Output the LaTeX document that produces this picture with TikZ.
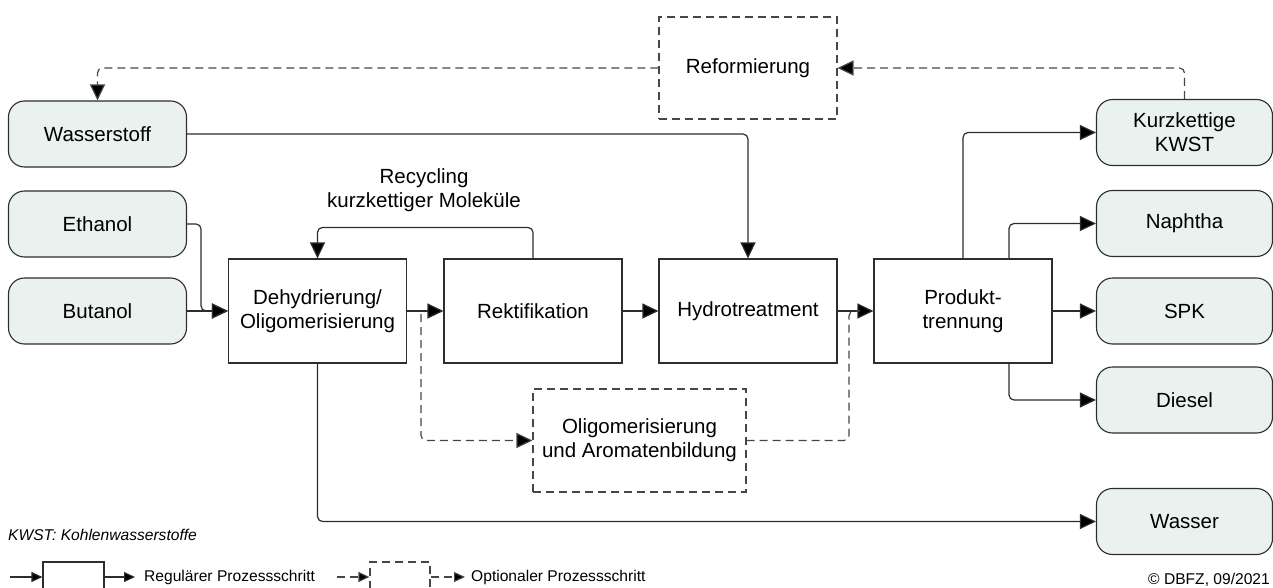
\documentclass[tikz,border=0pt]{standalone}
\usepackage{fontspec}
\setmainfont{Liberation Sans}
\usetikzlibrary{arrows.meta}
\definecolor{termfill}{RGB}{233,242,239}
\definecolor{linecol}{RGB}{45,45,45}
\definecolor{dashcol}{RGB}{70,70,70}
\begin{document}
\begin{tikzpicture}[x=1pt,y=-1pt,
  mainfont/.style={font=\fontsize{20.5}{24}\selectfont},
  smallfont/.style={font=\fontsize{15.6}{18}\selectfont},
  term/.style={draw=linecol, fill=termfill, rounded corners=16pt, minimum width=178pt,
    minimum height=66pt, align=center, mainfont, line width=1.1pt, inner sep=0pt},
  proc/.style={draw=linecol, minimum width=178pt, minimum height=104pt, align=center,
    mainfont, line width=1.1pt, inner sep=0pt},
  opt/.style={proc, draw=dashcol, dash pattern=on 8pt off 5pt},
  arr/.style={-{Triangle[length=16pt,width=15pt,fill=black]}, draw=linecol, line width=1.2pt, rounded corners=5pt},
  darr/.style={arr, draw=dashcol, dash pattern=on 8pt off 5pt},
  dline/.style={draw=dashcol, line width=1.2pt, rounded corners=5pt, dash pattern=on 8pt off 5pt},
  sarr/.style={-{Triangle[length=11pt,width=10pt,fill=black]}, draw=linecol, line width=1.1pt},
  dsarr/.style={sarr, draw=dashcol, dash pattern=on 8pt off 5pt},
  label/.style={align=center, mainfont, inner sep=0pt}
]
\useasboundingbox (0,0) rectangle (1273,588);

% source nodes
\node[term] (wst) at (97.5,134) {Wasserstoff};
\node[term] (eth) at (97.5,224) {Ethanol};
\node[term] (but) at (97.5,311) {Butanol};

% process steps
\node[proc] (deh) at (317.5,311) {Dehydrierung/\\Oligomerisierung};
\node[proc] (rek) at (533,311) {Rektifikation};
\node[proc] (hyd) at (748,311) {Hydrotreatment};
\node[proc] (pro) at (963,311) {Produkt-\\trennung};
\node[opt, minimum width=213pt, minimum height=103pt] (oli) at (639.5,440.5) {Oligomerisierung\\und Aromatenbildung};
\node[opt, minimum height=102pt] (ref) at (748,68) {Reformierung};

% products
\node[term, minimum width=176pt] (kur) at (1184.5,132.5) {Kurzkettige\\KWST};
\node[term, minimum width=176pt] (nap) at (1184.5,223.5) {Naphtha};
\node[term, minimum width=176pt] (spk) at (1184.5,311) {SPK};
\node[term, minimum width=176pt] (die) at (1184.5,400) {Diesel};
\node[term, minimum width=176pt] (was) at (1184.5,521.5) {Wasser};

% recycling label
\node[label] (rec) at (424,190) {Recycling\\kurzkettiger Moleküle};

% regular connectors
\draw[arr] (wst.east) -| (hyd.north);
\draw[arr] (eth.east) -- ++(14,0) |- (deh.west);
\draw[arr] (but.east) -- (deh.west);
\draw[arr] (deh.east) -- (rek.west);
\draw[arr] (rek.east) -- (hyd.west);
\draw[arr] (hyd.east) -- (pro.west);
\draw[arr] (rek.north) -- ++(0,-31) -| (deh.north);
\draw[arr] (deh.south) |- (was.west);
\draw[arr] (pro.north) |- (kur.west);
\draw[arr] ([xshift=46pt]pro.north) |- (nap.west);
\draw[arr] (pro.east) -- (spk.west);
\draw[arr] ([xshift=46pt]pro.south) |- (die.west);

% optional connectors
\draw[darr] (kur.north) |- (ref.east);
\draw[darr] (ref.west) -| (wst.north);
\coordinate (j1) at (421,314);
\draw[darr] (j1) |- (oli.west);
\coordinate (j2) at (849,311);
\coordinate (j3) at (860,311);
\draw[dline] (oli.east) -| (j2) -- (j3);

% notes
\node[anchor=west, inner sep=0pt, font=\itshape\fontsize{15.6}{18}\selectfont] (note) at (8,535) {KWST: Kohlenwasserstoffe};
\node[anchor=east, inner sep=0pt, smallfont] (copy) at (1270,580) {© DBFZ, 09/2021};

% legend
\node[draw=linecol, line width=1.1pt, minimum width=61pt, minimum height=30pt, inner sep=0pt] (lg1) at (73.5,577) {};
\coordinate (l1a) at (10,577);
\coordinate (l1b) at (135,577);
\draw[sarr] (l1a) -- (lg1.west);
\draw[sarr] (lg1.east) -- (l1b);
\node[anchor=west, inner sep=0pt, smallfont] (lt1) at (144,577) {Regulärer Prozessschritt};

\node[draw=dashcol, line width=1.1pt, dash pattern=on 8pt off 5pt, minimum width=60pt, minimum height=30pt, inner sep=0pt] (lg2) at (400,577) {};
\coordinate (l2a) at (337,577);
\coordinate (l2b) at (465,577);
\draw[dsarr] (l2a) -- (lg2.west);
\draw[dsarr] (lg2.east) -- (l2b);
\node[anchor=west, inner sep=0pt, smallfont] (lt2) at (471,577) {Optionaler Prozessschritt};
\end{tikzpicture}
\end{document}
